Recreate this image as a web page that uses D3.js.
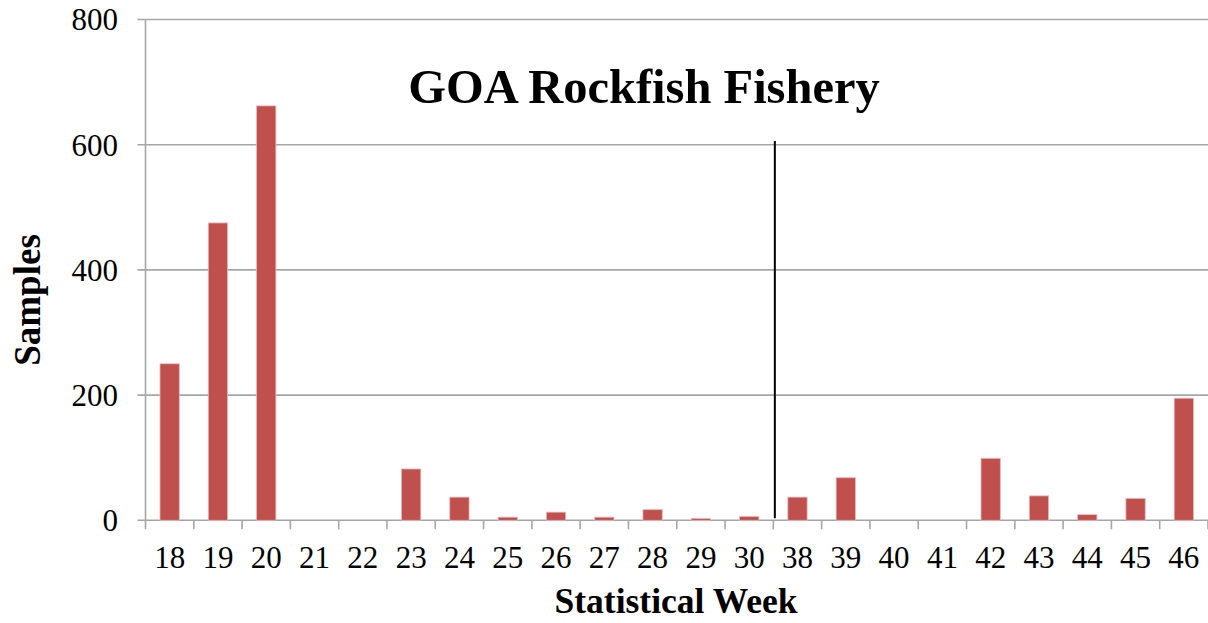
<!DOCTYPE html>
<html>
<head>
<meta charset="utf-8">
<script src="https://cdn.jsdelivr.net/npm/d3@7"></script>
<style>
  html, body { margin: 0; padding: 0; background: #fff; }
  svg { display: block; }
  text { font-family: "Liberation Serif", "Times New Roman", serif; fill: #000; }
</style>
</head>
<body>
<svg id="chart" width="1208" height="623"></svg>
<script>
// ---- data ----
const weeks = ["18","19","20","21","22","23","24","25","26","27","28","29","30","38","39","40","41","42","43","44","45","46"];
const samples = [250, 475, 662, 0, 0, 82, 37, 5, 13, 5, 17, 3, 6, 37, 68, 0, 0, 99, 39, 9, 35, 195];
const yTicks = [0, 200, 400, 600, 800];
const dividerAfter = "30";
const title = "GOA Rockfish Fishery";
const xTitle = "Statistical Week";
const yTitle = "Samples";

(function () {
// ---- layout ----
const svg = d3.select("#chart");
const mLeft = 145.5, mRight = 1208, mTop = 19.5, mBottom = 520.3;

const x = d3.scaleBand().domain(weeks).range([mLeft, mRight]).paddingInner(0.6).paddingOuter(0.3);
const y = d3.scaleLinear().domain([0, 800]).range([mBottom, mTop]);
const step = x.step();
const gridColor = "#A6A6A6";

// gridlines
svg.append("g").selectAll("line").data(yTicks.filter(d => d > 0)).join("line")
  .attr("x1", mLeft - 8).attr("x2", mRight)
  .attr("y1", d => y(d)).attr("y2", d => y(d))
  .attr("stroke", gridColor).attr("stroke-width", 1.6);

// y axis line
svg.append("line").attr("x1", mLeft).attr("x2", mLeft).attr("y1", y(800)).attr("y2", mBottom)
  .attr("stroke", gridColor).attr("stroke-width", 1.6);
// x axis line
svg.append("line").attr("x1", mLeft - 8).attr("x2", mRight).attr("y1", mBottom).attr("y2", mBottom)
  .attr("stroke", gridColor).attr("stroke-width", 1.6);

// x ticks at band boundaries
const boundaries = d3.range(weeks.length + 1).map(i => mLeft + i * step);
svg.append("g").selectAll("line").data(boundaries).join("line")
  .attr("x1", d => d).attr("x2", d => d)
  .attr("y1", mBottom).attr("y2", mBottom + 9)
  .attr("stroke", gridColor).attr("stroke-width", 1.6);

// y tick labels
svg.append("g").selectAll("text").data(yTicks).join("text")
  .attr("x", 118).attr("y", d => y(d))
  .attr("dy", "0.35em")
  .attr("text-anchor", "end")
  .style("font-size", "31px")
  .text(d => d);

// x tick labels
svg.append("g").selectAll("text").data(weeks).join("text")
  .attr("x", d => x(d) + x.bandwidth() / 2).attr("y", 568)
  .attr("text-anchor", "middle")
  .style("font-size", "31px")
  .text(d => d);

// bars
svg.append("g").selectAll("rect").data(weeks.map((w, i) => ({ w, v: samples[i] })).filter(d => d.v > 0)).join("rect")
  .attr("x", d => x(d.w)).attr("width", x.bandwidth())
  .attr("y", d => y(d.v)).attr("height", d => mBottom - y(d.v))
  .attr("fill", "#C0504D")
  .attr("stroke", "#E9B9B8").attr("stroke-width", 0.8);

// divider line (boundary after week 30)
const divX = mLeft + (weeks.indexOf(dividerAfter) + 1) * step;
svg.append("line").attr("x1", divX + 1.5).attr("x2", divX + 1.5).attr("y1", 141).attr("y2", mBottom - 2)
  .attr("stroke", "#000").attr("stroke-width", 2);

// title
svg.append("text").attr("x", 644).attr("y", 103).attr("text-anchor", "middle")
  .style("font-size", "48.5px").style("font-weight", "bold").text(title);

// axis titles
svg.append("text").attr("x", 676).attr("y", 613).attr("text-anchor", "middle")
  .style("font-size", "35.5px").style("font-weight", "bold").text(xTitle);

svg.append("text").attr("transform", "translate(40,300) rotate(-90)").attr("text-anchor", "middle")
  .style("font-size", "37px").style("font-weight", "bold").text(yTitle);
})();
</script>
</body>
</html>
